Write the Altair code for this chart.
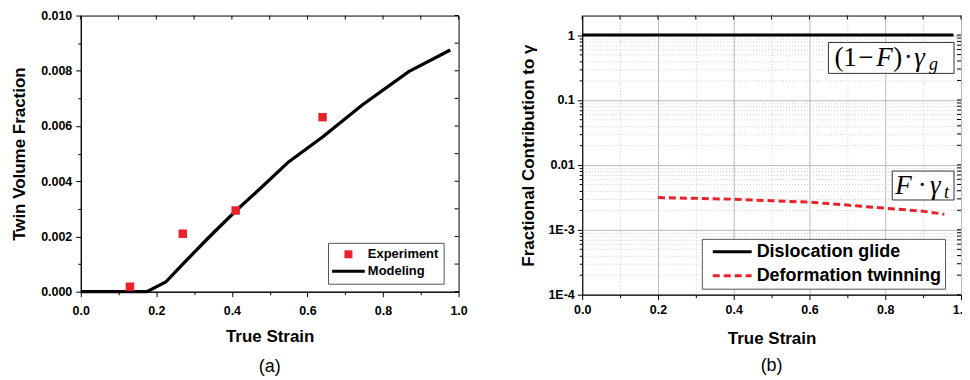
import altair as alt
import pandas as pd

# ---------------- data: panel (a) ----------------
exp_strain = [0.13, 0.27, 0.41, 0.64]
exp_fraction = [0.00018, 0.0021, 0.00294, 0.00632]
model_strain = [0.0, 0.175, 0.225, 0.27, 0.34, 0.41, 0.48, 0.55, 0.64, 0.745, 0.868, 0.978]
model_fraction = [0.0, 0.0, 0.00035, 0.001, 0.00198, 0.00292, 0.0038, 0.0047, 0.0056, 0.00676, 0.00797, 0.00875]
series_a = ["Experiment", "Modeling"]

# ---------------- data: panel (b) ----------------
glide_strain = [0.0, 0.98]
glide_value = [1.0, 1.0]
twin_strain = [0.2, 0.3, 0.4, 0.5, 0.6, 0.7, 0.8, 0.9, 0.956]
twin_value = [0.00314, 0.00305, 0.00296, 0.0028, 0.00267, 0.0024, 0.00215, 0.00193, 0.00174]
series_b = ["Dislocation glide", "Deformation twinning"]

# ---------------- tick values ----------------
strain_ticks = [0.0, 0.1, 0.2, 0.3, 0.4, 0.5, 0.6, 0.7, 0.8, 0.9, 1.0]
fraction_ticks = [0.0, 0.001, 0.002, 0.003, 0.004, 0.005, 0.006, 0.007, 0.008, 0.009, 0.010]
log_ticks = [m * d for d in [1e-4, 1e-3, 1e-2, 1e-1] for m in range(1, 10)] + [1.0]

FONT = "Liberation Sans"
SERIF = "Liberation Serif"
RED = "#e8212b"
W1, H1 = 379, 277
W2, H2 = 380, 280

even_x = "round(datum.value * 10) % 2 == 0"
even_fr = "round(datum.value * 1000) % 2 == 0"
decade = "abs(log(datum.value) / LN10 - round(log(datum.value) / LN10)) < 0.001"
log_label = (f"{decade} ? (datum.value > 0.5 ? '1' : datum.value > 0.05 ? '0.1' : "
             "datum.value > 0.005 ? '0.01' : datum.value > 0.0005 ? '1E-3' : '1E-4') : ''")


def xa(grid=False):
    if grid:
        kw = dict(grid=True,
                  gridDash={"condition": {"test": even_x, "value": []}, "value": [1, 2]},
                  gridColor={"condition": {"test": even_x, "value": "#b8b8b8"}, "value": "#cfcfcf"},
                  gridWidth=1, labelPadding=4, titlePadding=14)
    else:
        kw = dict(grid=False, labelPadding=8, titlePadding=11)
    return alt.X("strain:Q",
                 scale=alt.Scale(domain=[0, 1], nice=False, zero=False),
                 axis=alt.Axis(values=strain_ticks, title="True Strain",
                               labelExpr=f"{even_x} ? format(datum.value, '.1f') : ''",
                               tickSize={"condition": {"test": even_x, "value": 5}, "value": 3},
                               labelFlush=False, labelOverlap=False, **kw))


def ya():
    return alt.Y("frac:Q",
                 scale=alt.Scale(domain=[0, 0.010], nice=False, zero=False),
                 axis=alt.Axis(values=fraction_ticks, title="Twin Volume Fraction",
                               labelExpr=f"{even_fr} ? format(datum.value, '.3f') : ''",
                               tickSize={"condition": {"test": even_fr, "value": 5}, "value": 3},
                               labelFlush=False, labelOverlap=False, grid=False,
                               labelPadding=4, titlePadding=12))


def yb():
    return alt.Y("val:Q",
                 scale=alt.Scale(type="log", domain=[1e-4, 2.0], nice=False),
                 axis=alt.Axis(values=log_ticks, title="Fractional Contribution to γ",
                               labelExpr=log_label,
                               tickSize={"condition": {"test": decade, "value": 5}, "value": 3},
                               labelFlush=False, labelOverlap=False, grid=True,
                               gridDash={"condition": {"test": decade, "value": []}, "value": [1, 2]},
                               gridColor={"condition": {"test": decade, "value": "#b8b8b8"}, "value": "#cfcfcf"},
                               gridWidth=1, labelPadding=3, titlePadding=10))


# ---------------- panel (a) ----------------
SQUARE = "M-1,-1L1,-1L1,1L-1,1Z"
BAR = "M-4.1,-0.36L4.1,-0.36L4.1,0.36L-4.1,0.36Z"
leg_a = alt.Legend(title=None, orient="none", legendX=248, legendY=228,
                   labelFont=FONT, labelFontSize=13, labelFontWeight="bold", labelColor="black",
                   symbolSize=64, padding=5, strokeColor="#555555", fillColor="white",
                   rowPadding=3, symbolOffset=9, labelOffset=13, symbolStrokeWidth=0,
                   symbolOpacity=1, cornerRadius=0, labelLimit=300)

df_exp = pd.DataFrame({"strain": exp_strain, "frac": exp_fraction, "sa": "Experiment"})
df_model = pd.DataFrame({"strain": model_strain, "frac": model_fraction})

line_a = alt.Chart(df_model).mark_line(color="black", strokeWidth=3.3).encode(x=xa(), y=ya())
pts_a = alt.Chart(df_exp).mark_point(filled=True, opacity=1, size=72).encode(
    x=xa(), y=ya(),
    color=alt.Color("sa:N", scale=alt.Scale(domain=series_a, range=[RED, "black"]), legend=leg_a),
    shape=alt.Shape("sa:N", scale=alt.Scale(domain=series_a, range=[SQUARE, BAR]), legend=leg_a),
)
top_a = alt.Chart(pd.DataFrame({"strain": strain_ticks})).mark_rule(color="black").encode(
    x=xa(), y=alt.value(0), y2=alt.value(4))
right_a = alt.Chart(pd.DataFrame({"frac": fraction_ticks})).mark_rule(color="black").encode(
    y=ya(), x=alt.value(W1), x2=alt.value(W1 - 4))

panel_a = alt.layer(top_a, right_a, line_a, pts_a).properties(
    width=W1, height=H1,
    title=alt.TitleParams("(a)", orient="bottom", font=FONT, fontSize=18, fontWeight="normal",
                          color="black", offset=14))

# ---------------- panel (b) ----------------
leg_b = alt.Legend(title=None, orient="none", legendX=120, legendY=224,
                   labelFont=FONT, labelFontSize=18, labelFontWeight="bold", labelColor="black",
                   symbolType="M-4.875,0L4.875,0", symbolSize=64, symbolStrokeWidth=3,
                   padding=4, strokeColor="#555555", fillColor="white",
                   rowPadding=6, symbolOffset=17.5, labelOffset=15.5, cornerRadius=0, labelLimit=400)

df_b = pd.concat([
    pd.DataFrame({"strain": glide_strain, "val": glide_value, "sb": series_b[0]}),
    pd.DataFrame({"strain": twin_strain, "val": twin_value, "sb": series_b[1]}),
])
lines_b = alt.Chart(df_b).mark_line(strokeWidth=3).encode(
    x=xa(grid=True), y=yb(),
    color=alt.Color("sb:N", scale=alt.Scale(domain=series_b, range=["black", RED]), legend=leg_b),
    strokeDash=alt.StrokeDash("sb:N", scale=alt.Scale(domain=series_b, range=[[1, 0], [7, 4]]), legend=leg_b),
)
top_b = alt.Chart(pd.DataFrame({"strain": strain_ticks})).mark_rule(color="black").encode(
    x=xa(grid=True), y=alt.value(0), y2=alt.value(4))
right_b = alt.Chart(pd.DataFrame({"val": log_ticks})).mark_rule(color="black").encode(
    y=yb(), x=alt.value(W2), x2=alt.value(W2 - 4))

one = pd.DataFrame({"k": [0]})
boxes = [
    alt.Chart(one).mark_rect(fill="white", stroke="#333333", strokeWidth=1).encode(
        x=alt.value(247), x2=alt.value(373), y=alt.value(27), y2=alt.value(58)),
    alt.Chart(one).mark_rect(fill="white", stroke="#333333", strokeWidth=1).encode(
        x=alt.value(311), x2=alt.value(373), y=alt.value(156), y2=alt.value(185)),
]
# annotation glyphs: (text, x px, baseline px, font size, italic, align)
annot_layout = [
    ("(", 253, 51, 27, False, "left"),
    ("1", 262, 51, 27, False, "left"),
    ("−", 277, 51, 27, False, "left"),
    ("F", 295, 51, 27, True, "left"),
    (")", 312, 51, 27, False, "left"),
    ("·", 327, 51, 27, False, "center"),
    ("γ", 333, 51, 27, True, "left"),
    ("g", 348, 55, 18, True, "left"),
    ("F", 314, 179, 27, True, "left"),
    ("·", 341, 179, 27, False, "center"),
    ("γ", 349, 179, 27, True, "left"),
    ("t", 363, 183, 18, True, "left"),
]
texts = [
    alt.Chart(one).mark_text(font=SERIF, fontSize=fs, fontStyle="italic" if it else "normal",
                             align=al, baseline="alphabetic", color="black").encode(
        x=alt.value(px), y=alt.value(py), text=alt.value(t))
    for (t, px, py, fs, it, al) in annot_layout
]

panel_b = alt.layer(top_b, right_b, lines_b, *boxes, *texts).properties(
    width=W2, height=H2,
    title=alt.TitleParams("(b)", orient="bottom", font=FONT, fontSize=18, fontWeight="normal",
                          color="black", offset=11))

chart = alt.hconcat(panel_a, panel_b, spacing=51).resolve_scale(
    color="independent", shape="independent", strokeDash="independent"
).resolve_legend(
    color="independent", shape="independent", strokeDash="independent"
).properties(
    padding={"left": 2, "top": 0, "right": -9, "bottom": 0}
).configure_view(stroke="black", strokeWidth=1).configure_axis(
    domainColor="black", tickColor="black", labelColor="black", titleColor="black",
    labelFont=FONT, labelFontSize=12.5, labelFontWeight="bold",
    titleFont=FONT, titleFontSize=17, titleFontWeight="bold",
    domainWidth=1, tickWidth=1,
)

chart.save("out.html", embed_options={"renderer": "svg", "actions": False})
